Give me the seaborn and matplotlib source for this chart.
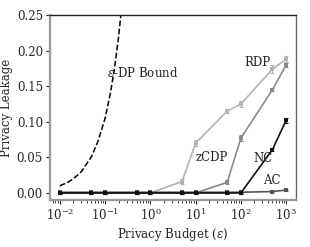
import numpy as np
import pandas as pd
import matplotlib
matplotlib.use('Agg')
import matplotlib.pyplot as plt
import matplotlib.ticker as mticker
import seaborn as sns

# privacy budgets and leakage values
budgets = [0.01, 0.05, 0.1, 0.5, 1, 5, 10, 50, 100, 500, 1000]
rdp = [0.0, 0.0, 0.0, 0.0, 0.0, 0.016, 0.070, 0.115, 0.125, 0.174, 0.188]
rdp_err = [0.002, 0.002, 0.002, 0.002, 0.001, 0.003, 0.004, 0.002, 0.004, 0.006, 0.004]
zcdp = [0.0, 0.0, 0.0, 0.0, 0.0, 0.0, 0.0, 0.015, 0.077, 0.145, 0.180]
zcdp_err = [0.002, 0.002, 0.002, 0.002, 0.001, 0.001, 0.001, 0.003, 0.004, 0.002, 0.003]
nc = [0.0, 0.0, 0.0, 0.0, 0.0, 0.0, 0.0, 0.0, 0.0, 0.061, 0.102]
nc_err = [0.001, 0.001, 0.001, 0.001, 0.001, 0.001, 0.001, 0.001, 0.001, 0.002, 0.003]
ac = [0.001, 0.001, 0.001, 0.001, 0.001, 0.001, 0.001, 0.001, 0.001, 0.002, 0.004]
ac_err = [0.001, 0.001, 0.001, 0.001, 0.001, 0.001, 0.001, 0.001, 0.001, 0.001, 0.001]

bound_eps = [0.01, 0.015, 0.02, 0.03, 0.05, 0.07, 0.1, 0.13, 0.16, 0.2, 0.23]
bound_val = [0.010, 0.015, 0.020, 0.030, 0.051, 0.073, 0.105, 0.139, 0.174, 0.221, 0.259]

series = [('RDP', rdp, rdp_err, '#b3b3b3'),
          ('zCDP', zcdp, zcdp_err, '#8a8a8a'),
          ('AC', ac, ac_err, '#555555'),
          ('NC', nc, nc_err, '#111111')]

sns.set_style('ticks')
plt.rcParams['font.family'] = ['DejaVu Serif']
plt.rcParams['mathtext.fontset'] = 'dejavuserif'

fig = plt.figure(figsize=(3.1, 2.47), dpi=100)
ax = fig.add_axes([0.161, 0.19, 0.794, 0.749])

for name, vals, errs, col in series:
    df = pd.DataFrame({'eps': budgets, 'leak': vals})
    sns.lineplot(data=df, x='eps', y='leak', ax=ax, color=col, lw=1.2,
                 marker='s', markersize=2.5, markeredgewidth=0)
    ax.errorbar(budgets, vals, yerr=errs, fmt='none', ecolor=col,
                elinewidth=0.8, capsize=1.5, capthick=0.8)

bdf = pd.DataFrame({'eps': bound_eps, 'leak': bound_val})
sns.lineplot(data=bdf, x='eps', y='leak', ax=ax, color='black', lw=1.1,
             linestyle='--')

fs = 8.5
ax.set_xscale('log')
ax.set_xlim(10 ** -2.22, 10 ** 3.22)
ax.xaxis.set_major_locator(mticker.LogLocator(base=10, numticks=10))
ax.xaxis.set_minor_locator(mticker.LogLocator(base=10, subs=np.arange(2, 10), numticks=20))
ax.xaxis.set_minor_formatter(mticker.NullFormatter())
ax.set_ylim(-0.01, 0.25)
ax.set_yticks([0.0, 0.05, 0.10, 0.15, 0.20, 0.25])
ax.set_yticklabels(['0.00', '0.05', '0.10', '0.15', '0.20', '0.25'])
ax.set_xlabel(r'Privacy Budget ($\varepsilon$)', fontsize=fs, labelpad=2)
ax.set_ylabel('Privacy Leakage', fontsize=fs, labelpad=3)
ax.tick_params(labelsize=fs, length=3, width=0.8, pad=2)
ax.tick_params(which='minor', length=1.8, width=0.6)

ax.text(0.11, 0.168, r'$\varepsilon$-DP Bound', fontsize=fs, va='center')
ax.text(117, 0.184, 'RDP', fontsize=fs, va='center')
ax.text(10.2, 0.05, 'zCDP', fontsize=fs, va='center')
ax.text(186, 0.049, 'NC', fontsize=fs, va='center')
ax.text(309, 0.017, 'AC', fontsize=fs, va='center')

for side in ['left', 'bottom']:
    ax.spines[side].set_color('#9a9a9a')
    ax.spines[side].set_linewidth(1.6)
ax.spines['right'].set_color('#666666')
ax.spines['right'].set_linewidth(1.0)
ax.spines['top'].set_color('#222222')
ax.spines['top'].set_linewidth(1.0)

plt.savefig('out.png', dpi=100)
